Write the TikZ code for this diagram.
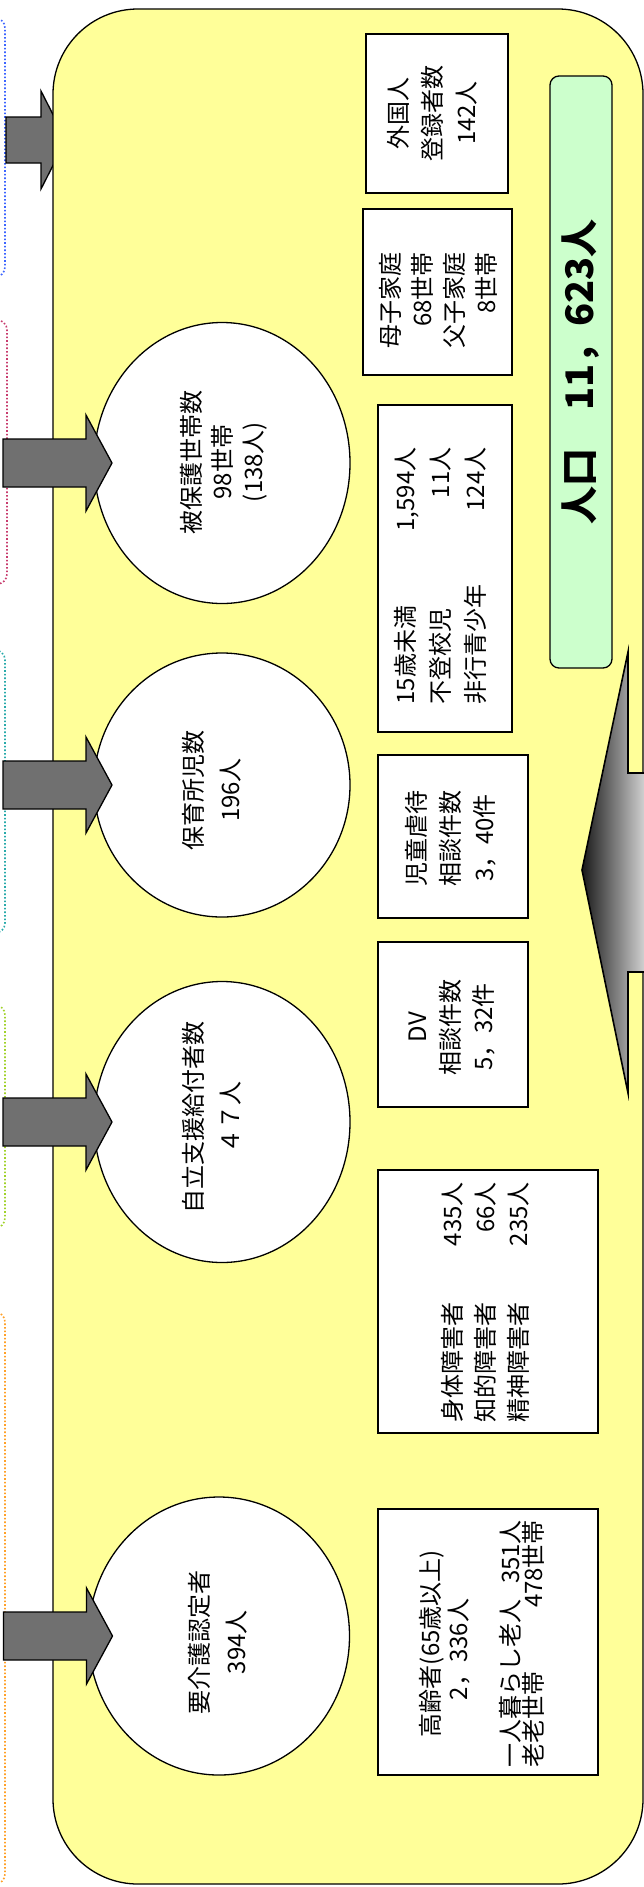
\documentclass[tikz,border=0pt]{standalone}
\usepackage{fontspec}
\setmainfont{Noto Sans CJK JP}
\usetikzlibrary{shapes.geometric}
\definecolor{bgyellow}{RGB}{255,255,153}
\definecolor{popgreen}{RGB}{204,255,204}
\definecolor{arrgray}{RGB}{112,112,112}
\definecolor{dblue}{RGB}{60,100,255}
\definecolor{dred}{RGB}{200,60,110}
\definecolor{dteal}{RGB}{40,170,170}
\definecolor{dgreen}{RGB}{160,210,40}
\definecolor{dorange}{RGB}{255,160,40}
\begin{document}
\begin{tikzpicture}[x=1pt,y=-1pt,
  every node/.style={inner sep=0pt, outer sep=0pt},
  box/.style={draw=black, line width=1.3pt, fill=white, rectangle},
  circ/.style={draw=black, line width=1.3pt, fill=white, ellipse},
  txt/.style={rotate=90, font=\fontsize{24}{33}\selectfont, align=center},
  arr/.style={draw=black, line width=1.3pt, fill=arrgray},
  dotbox/.style={dotted, line width=1.6pt, rounded corners=10pt},
  blockarrow/.pic={\draw[arr] (0,0) -- (-26,-48) -- (-26,-24) -- (-109,-24) -- (-109,24) -- (-26,24) -- (-26,48) -- cycle;}
]
\useasboundingbox (0,0) rectangle (644,1887);
\clip (0,0) rectangle (644,1887);
\fill[white] (0,0) rectangle (644,1887);

% dotted frames at the left edge
\draw[dotbox, draw=dblue]   (-60,18)   rectangle (5,277);
\draw[dotbox, draw=dred]    (-60,320)  rectangle (7,584);
\draw[dotbox, draw=dteal]   (-60,650)  rectangle (5,933);
\draw[dotbox, draw=dgreen]  (-60,1005) rectangle (5,1228);
\draw[dotbox, draw=dorange] (-60,1312) rectangle (5,1884);

% top arrow (behind the frame)
\coordinate (a0) at (66,140);
\draw[arr] (a0) -- ++(-25,-49) -- ++(0,26) -- ++(-35,0) -- ++(0,46) -- ++(35,0) -- ++(0,26) -- cycle;

% main frame
\node[draw=black, line width=1.3pt, fill=bgyellow, rectangle, rounded corners=85pt,
      minimum width=590pt, minimum height=1875pt] (frame) at (348,946.5) {};

% circles
\node[circ, minimum width=256pt, minimum height=281pt] (c1) at (222,463) {};
\node[circ, minimum width=256pt, minimum height=264pt] (c2) at (222,785) {};
\node[circ, minimum width=256pt, minimum height=281pt] (c3) at (222,1122) {};
\node[circ, minimum width=261pt, minimum height=278pt] (c4) at (219,1636) {};

\node[txt, font=\fontsize{24}{31}\selectfont] (tc1) at (224,462) {被保護世帯数\\98世帯\\(138人)};
\node[txt, font=\fontsize{24}{37}\selectfont] (tc2) at (212,790) {保育所児数\\196人};
\node[txt, font=\fontsize{24}{37}\selectfont] (tc3) at (212,1117) {自立支援給付者数\\４７人};
\node[txt, font=\fontsize{24}{37}\selectfont] (tc4) at (218,1642) {要介護認定者\\394人};

% boxes
\node[box, minimum width=142pt, minimum height=159pt] (b1) at (437,113.5) {};
\node[box, minimum width=149pt, minimum height=166pt] (b2) at (437.5,292) {};
\node[box, minimum width=134pt, minimum height=327pt] (b3) at (445,568.5) {};
\node[box, minimum width=150pt, minimum height=163pt] (b4) at (453,836.5) {};
\node[box, minimum width=150pt, minimum height=165pt] (b5) at (453,1024.5) {};
\node[box, minimum width=220pt, minimum height=263pt] (b6) at (488,1301.5) {};
\node[box, minimum width=220pt, minimum height=266pt] (b7) at (488,1642) {};

\node[txt, font=\fontsize{24}{34}\selectfont] (tb1) at (432,113) {外国人\\登録者数\\142人};
\node[txt, align=right, font=\fontsize{24}{32}\selectfont] (tb2) at (438,300) {母子家庭\\68世帯\\父子家庭\\8世帯};
\node[txt, font=\fontsize{24}{35}\selectfont] (tb3) at (441,576)
  {\makebox[257pt]{15歳未満\hfill 1,594人}\\\makebox[257pt]{不登校児\hfill 11人}\\\makebox[257pt]{非行青少年\hfill 124人}};
\node[txt, font=\fontsize{24}{34}\selectfont] (tb4) at (451,838) {児童虐待\\相談件数\\3，40件};
\node[txt, font=\fontsize{24}{33}\selectfont] (tb5) at (452,1027) {DV\\相談件数\\5，32件};
\node[txt, font=\fontsize{24}{33}\selectfont] (tb6) at (485,1302)
  {\makebox[240pt]{身体障害者\hfill 435人}\\\makebox[240pt]{知的障害者\hfill 66人}\\\makebox[240pt]{精神障害者\hfill 235人}};
\node[txt, anchor=west] (tb7a) at (432,1737) {高齢者(65歳以上)};
\node[txt, anchor=west] (tb7b) at (459,1700) {2，336人};
\node[txt, anchor=west] (tb7c) at (510,1767) {\makebox[247pt]{一人暮らし老人\hfill 351人}};
\node[txt, anchor=west] (tb7d) at (533,1767) {\makebox[247pt]{老老世帯\hfill 478世帯}};

% population box
\node[draw=black, line width=1.3pt, fill=popgreen, rectangle, rounded corners=9pt,
      minimum width=62pt, minimum height=592pt] (pop) at (581,372) {};
\node[txt, font=\fontsize{38}{40}\selectfont\bfseries] (tpop) at (pop.center) {人口　11，623人};

% arrows into circles
\path (c1.west) ++(18,0) coordinate (a1);
\path (c2.west) ++(18,0) coordinate (a2);
\path (c3.west) ++(18,0) coordinate (a3);
\path (c4.west) ++(24,0) coordinate (a4);
\pic at (a1) {blockarrow};
\pic at (a2) {blockarrow};
\pic at (a3) {blockarrow};
\pic at (a4) {blockarrow};

% big shaded arrow
\coordinate (bt) at (582,870);
\path[left color=black!90, right color=white, draw=black, line width=1.6pt]
  (660,773) -- (628,773) -- (628,652) -- (bt) -- (628,1093) -- (628,972) -- (660,972);
\end{tikzpicture}
\end{document}
